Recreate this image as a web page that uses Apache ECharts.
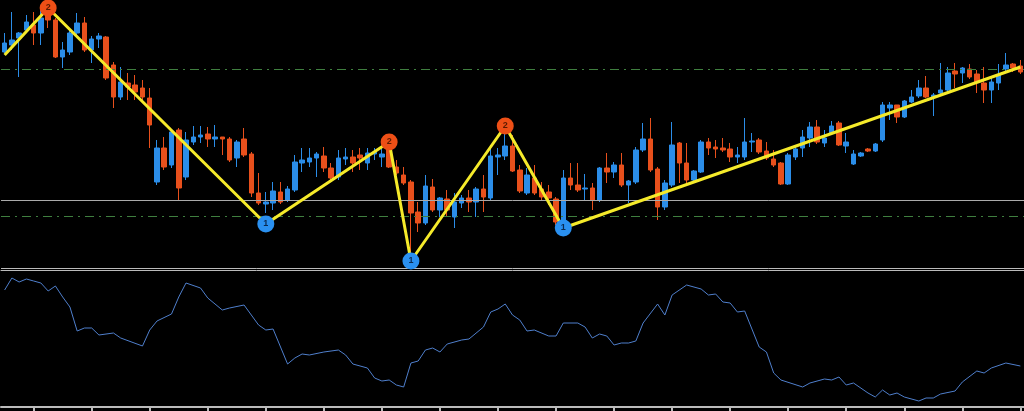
<!DOCTYPE html>
<html><head><meta charset="utf-8">
<script src="https://cdn.jsdelivr.net/npm/echarts@6/dist/echarts.min.js"></script>
<style>html,body{margin:0;padding:0;background:#000}#c{width:1024px;height:411px}</style>
</head><body><div id="c"></div>
<script>
// candles: [open, close, low, high]
const candles = [
[218,227,217,237],[225,230,220,258],[232,237,193,238],[240,248,237,255],[245,237,225,258],[237,252,225,260],[262,250,242,265],[250,213,212,252],[213,220,202,228],[218,237,215,240],
[237,247,235,257],[247,220,218,253],[220,231,207,234],[231,234,222,237],[233,192,190,234],[205,173,162,208],[173,188,170,203],[187,183,170,197],[185,178,170,195],[182,173,170,190],
[172,145,122,182],[88,122,85,130],[122,103,100,133],[105,138,102,140],[140,82,70,142],[93,130,90,138],[128,133,125,144],[133,135,127,144],[136,131,123,143],[131,133,123,145],
[133,131,115,133],[131,110,108,133],[112,128,103,130],[131,115,113,142],[116,77,73,118],[77,67,65,97],[66,68,57,78],[67,79,60,88],[78,68,66,88],[70,81,68,84],
[80,108,78,115],[107,110,98,122],[108,112,103,122],[112,116,93,118],[114,102,98,123],[102,92,90,107],[93,112,90,120],[111,113,105,122],[113,107,98,120],[115,112,100,122],
[107,117,100,122],[116,118,110,122],[113,116,103,122],[123,103,102,128],[103,97,95,110],[95,87,85,103],[88,57,10,90],[58,47,38,68],[47,84,45,95],[83,60,58,91],
[60,72,53,73],[71,60,53,80],[53,68,42,77],[67,72,62,75],[72,68,58,80],[68,81,53,83],[81,73,58,95],[72,114,70,122],[113,115,95,122],[114,124,110,145],
[124,99,98,135],[100,79,77,105],[77,95,75,102],[92,77,75,105],[81,73,70,88],[78,72,65,85],[71,48,45,73],[43,92,40,100],[92,85,80,107],[85,80,78,107],
[81,82,70,96],[82,70,60,87],[70,102,68,103],[102,98,87,117],[98,105,92,108],[105,85,83,117],[85,89,67,90],[88,120,86,123],[120,131,118,147],[131,100,98,152],
[101,63,50,103],[63,87,60,90],[85,125,83,148],[127,107,87,128],[107,90,87,127],[90,99,88,100],[98,128,97,130],[128,122,115,132],[123,121,112,130],[122,120,118,132],
[121,113,108,127],[113,115,107,123],[113,128,110,152],[128,129,118,137],[130,118,116,132],[119,112,110,128],[111,105,103,120],[107,86,85,108],[86,115,85,117],[113,121,110,123],
[122,133,113,140],[132,143,123,148],[143,128,126,150],[127,132,123,140],[137,144,135,149],[147,125,124,149],[124,128,117,137],[106,116,105,120],[114,117,113,118],[121,119,118,122],
[119,126,118,127],[130,165,128,168],[162,165,150,168],[165,153,147,165],[153,169,152,170],[168,173,167,180],[174,182,172,190],[182,173,172,194],[173,175,154,177],[177,180,175,207],
[180,197,178,203],[199,196,182,207],[197,202,187,203],[201,193,191,206],[196,188,177,200],[187,180,167,203],[180,188,167,193],[187,195,180,206],[201,205,197,217],[206,202,198,207],
[204,198,196,210]
];
const categories = candles.map((_, i) => String(i));
// zigzag pivots [index, price]
const zigzag = [[0,215],[6,262],[36,46],[53,128],[56,9],[69,144],[77,42],[140,203]];
const peaks = [[6,262],[53,128],[69,144]];
const troughs = [[36,46],[56,9],[77,42]];
const levels = { support: 70, upper: 201, lower: 54 };
// indicator [index, value]
const indicator = [[0,117],[1,129],[2,125],[3,128],[4,126],[5,124],[6,116],[7,121],[8,110],[9,100],[10,76],[11,79],[12,79],[13,72],[15,74],[16,69],[19,61],[20,77],[21,86],[23,93],[24,110],[25,124],[27,119],[28,109],[30,97],[31,99],[33,102],[34,92],[35,82],[36,77],[37,78],[39,43],[40,49],[41,53],[42,52],[44,55],[46,57],[47,52],[48,43],[50,39],[51,29],[52,26],[53,27],[54,22],[55,20],[56,44],[57,46],[58,57],[59,59],[60,55],[61,63],[63,67],[64,68],[66,80],[67,95],[68,98],[69,103],[70,92],[71,87],[72,76],[73,77],[75,71],[76,71],[77,84],[79,84],[80,80],[81,69],[82,73],[83,71],[84,62],[85,64],[86,64],[87,66],[88,84],[90,103],[91,92],[92,112],[94,122],[96,118],[97,112],[98,113],[99,105],[100,104],[101,95],[102,96],[104,60],[105,55],[106,34],[107,27],[110,20],[111,24],[113,28],[114,27],[115,30],[116,22],[117,24],[119,14],[120,10],[121,17],[122,12],[123,14],[124,10],[126,6],[127,9],[128,9],[129,13],[131,16],[132,25],[134,36],[135,34],[136,39],[138,44],[140,41]];

function toSeries(pts){ const a = categories.map(()=>null); pts.forEach(p=>a[p[0]]=p[1]); return a; }

const chart = echarts.init(document.getElementById('c'));
chart.setOption({
  backgroundColor:'#000', animation:false,
  grid:[{left:1,right:-7,top:0,height:270},{left:1,right:-7,top:271,height:136}],
  xAxis:[
    {type:'category',data:categories,gridIndex:0,axisLine:{show:true,lineStyle:{color:'#bbb',width:1}},axisTick:{show:false},axisLabel:{show:false}},
    {type:'category',data:categories,gridIndex:1,axisLine:{show:true,lineStyle:{color:'#bbb',width:2}},
     axisTick:{show:true,alignWithLabel:true,interval:(i)=>i%8===4,length:4,lineStyle:{color:'#bbb',width:2}},axisLabel:{show:false}}
  ],
  yAxis:[
    {type:'value',gridIndex:0,min:0,max:270,show:false},
    {type:'value',gridIndex:1,min:0,max:136,show:false}
  ],
  series:[
    {type:'candlestick',xAxisIndex:0,yAxisIndex:0,data:candles,barWidth:5,
     itemStyle:{color:'#2b8de8',color0:'#e8501c',borderColor:'#2b8de8',borderColor0:'#e8501c',borderWidth:1,opacity:1},
     markLine:{silent:true,symbol:'none',label:{show:false},data:[
       {yAxis:levels.support,lineStyle:{color:'#aaa',width:1,type:'solid'}},
       {yAxis:levels.upper,lineStyle:{color:'#3f7f3f',width:1,type:[9,5,2,5]}},
       {yAxis:levels.lower,lineStyle:{color:'#3f7f3f',width:1,type:[9,5,2,5]}},
       {yAxis:2,lineStyle:{color:'#bbb',width:1,type:'solid'}}
     ]}},
    {type:'line',xAxisIndex:0,yAxisIndex:0,data:toSeries(zigzag),connectNulls:true,showSymbol:false,
     lineStyle:{color:'#f5ea2a',width:3},z:5},
    {type:'scatter',xAxisIndex:0,yAxisIndex:0,data:toSeries(peaks),symbolSize:17,itemStyle:{color:'#ee4f16',opacity:1},z:6,
     label:{show:true,formatter:'2',color:'#5a1a00',fontSize:9,fontWeight:'bold'}},
    {type:'scatter',xAxisIndex:0,yAxisIndex:0,data:toSeries(troughs),symbolSize:17,itemStyle:{color:'#2a90f0',opacity:1},z:6,
     label:{show:true,formatter:'1',color:'#0a2a50',fontSize:9,fontWeight:'bold'}},
    {type:'line',xAxisIndex:1,yAxisIndex:1,data:toSeries(indicator),connectNulls:true,showSymbol:false,
     lineStyle:{color:'#4f7fcc',width:1}}
  ]
});
</script></body></html>
